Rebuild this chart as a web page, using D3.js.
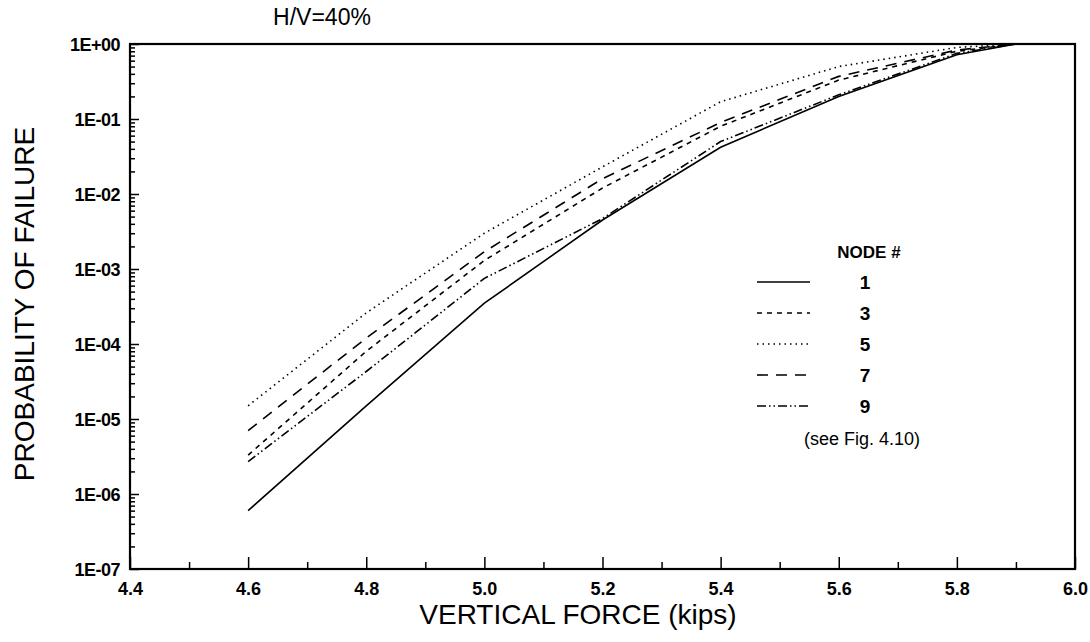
<!DOCTYPE html>
<html>
<head>
<meta charset="utf-8">
<script src="https://cdn.jsdelivr.net/npm/d3@7"></script>
<style>
  body { margin: 0; background: #fff; }
  text { font-family: 'Liberation Sans', Arial, sans-serif; fill: #000; }
</style>
</head>
<body>
<div id="chart-area"></div>
<script>
// values
const forces = [4.6, 4.8, 5.0, 5.2, 5.4, 5.6, 5.8, 5.9, 6.0]
const node1 = [6e-7, 1.5e-5, 3.5e-4, 4.5e-3, 4.2e-2, 0.2, 0.72, 1.0, 1.0]
const node3 = [3.3e-6, 8e-5, 1.3e-3, 1.2e-2, 8e-2, 0.33, 0.8, 1.0, 1.0]
const node5 = [1.5e-5, 2.6e-4, 3e-3, 2.3e-2, 0.17, 0.5, 0.9, 1.0, 1.0]
const node7 = [7e-6, 1.2e-4, 1.7e-3, 1.6e-2, 9e-2, 0.37, 0.83, 1.0, 1.0]
const node9 = [2.7e-6, 4.3e-5, 7.5e-4, 4.7e-3, 5e-2, 0.21, 0.75, 1.0, 1.0]
const nodeNames = ['1', '3', '5', '7', '9']
const xTicks = [4.4, 4.6, 4.8, 5.0, 5.2, 5.4, 5.6, 5.8, 6.0]
const yDecades = [1e-7, 1e-6, 1e-5, 1e-4, 1e-3, 1e-2, 1e-1, 1]

const margin = { top: 44, right: 15, bottom: 73, left: 130 }
const width = 1090 - margin.left - margin.right
const height = 642 - margin.top - margin.bottom

const svg = d3.select('#chart-area')
              .append('svg')
              .attr('width', 1090)
              .attr('height', 642)

const g = svg.append('g')
             .attr('transform', 'translate(' + margin.left + ',' + margin.top + ')')

const x = d3.scaleLinear().domain([4.4, 6.0]).range([0, width])
const y = d3.scaleLog().domain([1e-7, 1]).range([height, 0])

const fmt = d => {
    const e = Math.round(Math.log10(d))
    return '1E' + (e < 0 ? '-' : '+') + String(Math.abs(e)).padStart(2, '0')
}

// minor y ticks (2..9 of each decade)
const minorY = y.ticks().filter(d => !yDecades.some(v => Math.abs(v - d) < v * 1e-6))
g.append('g')
 .attr('class', 'y-minor')
 .call(d3.axisLeft(y).tickValues(minorY).tickSize(-5).tickFormat(''))

g.append('g')
 .attr('class', 'y-axis')
 .call(d3.axisLeft(y).tickValues(yDecades).tickSize(-9).tickPadding(10).tickFormat(fmt))

// minor x ticks
const minorX = d3.range(4.5, 6.0, 0.2)
g.append('g')
 .attr('class', 'x-minor')
 .attr('transform', 'translate(0,' + height + ')')
 .call(d3.axisBottom(x).tickValues(minorX).tickSize(-7).tickFormat(''))

g.append('g')
 .attr('class', 'x-axis')
 .attr('transform', 'translate(0,' + height + ')')
 .call(d3.axisBottom(x).tickValues(xTicks).tickSize(-12).tickPadding(20).tickFormat(d3.format('.1f')))

g.selectAll('.domain').remove()
g.selectAll('.tick line').attr('stroke', '#000').attr('stroke-width', 1.5)
g.selectAll('.tick text')
 .attr('font-size', '18px')
 .attr('font-weight', 'bold')
 .style('font-family', "'Liberation Sans', Arial, sans-serif")
g.selectAll('.y-axis .tick text').attr('dy', '0.35em').attr('letter-spacing', '-0.5')
g.selectAll('.x-axis .tick text').attr('dy', '0.35em')

// frame
g.append('rect')
 .attr('width', width)
 .attr('height', height)
 .attr('fill', 'none')
 .attr('stroke', '#000')
 .attr('stroke-width', 2.2)

const series = [node1, node3, node5, node7, node9]
const dashes = ['none', '5,5', '1.5,4', '11,8', '9,3,1.5,3,1.5,3']

const line = d3.line()
               .x((d, i) => x(forces[i]))
               .y(d => y(d))

g.selectAll('.curve')
 .data(series)
 .enter()
 .append('path')
 .attr('class', 'curve')
 .attr('d', line)
 .attr('fill', 'none')
 .attr('stroke', '#000')
 .attr('stroke-width', 1.6)
 .attr('stroke-dasharray', (d, i) => dashes[i])

// legend
const legend = svg.append('g').attr('class', 'legend')
legend.append('text')
      .attr('x', 869)
      .attr('y', 258)
      .attr('text-anchor', 'middle')
      .attr('font-size', '17px')
      .attr('font-weight', 'bold')
      .text('NODE #')

nodeNames.forEach((n, i) => {
    const ly = 282 + i * 31
    legend.append('line')
          .attr('x1', 757).attr('x2', 810)
          .attr('y1', ly).attr('y2', ly)
          .attr('stroke', '#000')
          .attr('stroke-width', 1.6)
          .attr('stroke-dasharray', dashes[i])
    legend.append('text')
          .attr('x', 865)
          .attr('y', ly + 7)
          .attr('text-anchor', 'middle')
          .attr('font-size', '19px')
          .attr('font-weight', 'bold')
          .text(n)
})

legend.append('text')
      .attr('x', 862)
      .attr('y', 445)
      .attr('text-anchor', 'middle')
      .attr('font-size', '18px')
      .text('(see Fig. 4.10)')

// titles
svg.append('text')
   .attr('x', 322)
   .attr('y', 25)
   .attr('text-anchor', 'middle')
   .attr('font-size', '23px')
   .text('H/V=40%')

svg.append('text')
   .attr('class', 'x-axis-label')
   .attr('x', 578)
   .attr('y', 624)
   .attr('text-anchor', 'middle')
   .attr('font-size', '28px')
   .text('VERTICAL FORCE (kips)')

svg.append('text')
   .attr('class', 'y-axis-label')
   .attr('x', -304)
   .attr('y', 34)
   .attr('text-anchor', 'middle')
   .attr('font-size', '28px')
   .attr('transform', 'rotate(-90)')
   .text('PROBABILITY OF FAILURE')
</script>
</body>
</html>
